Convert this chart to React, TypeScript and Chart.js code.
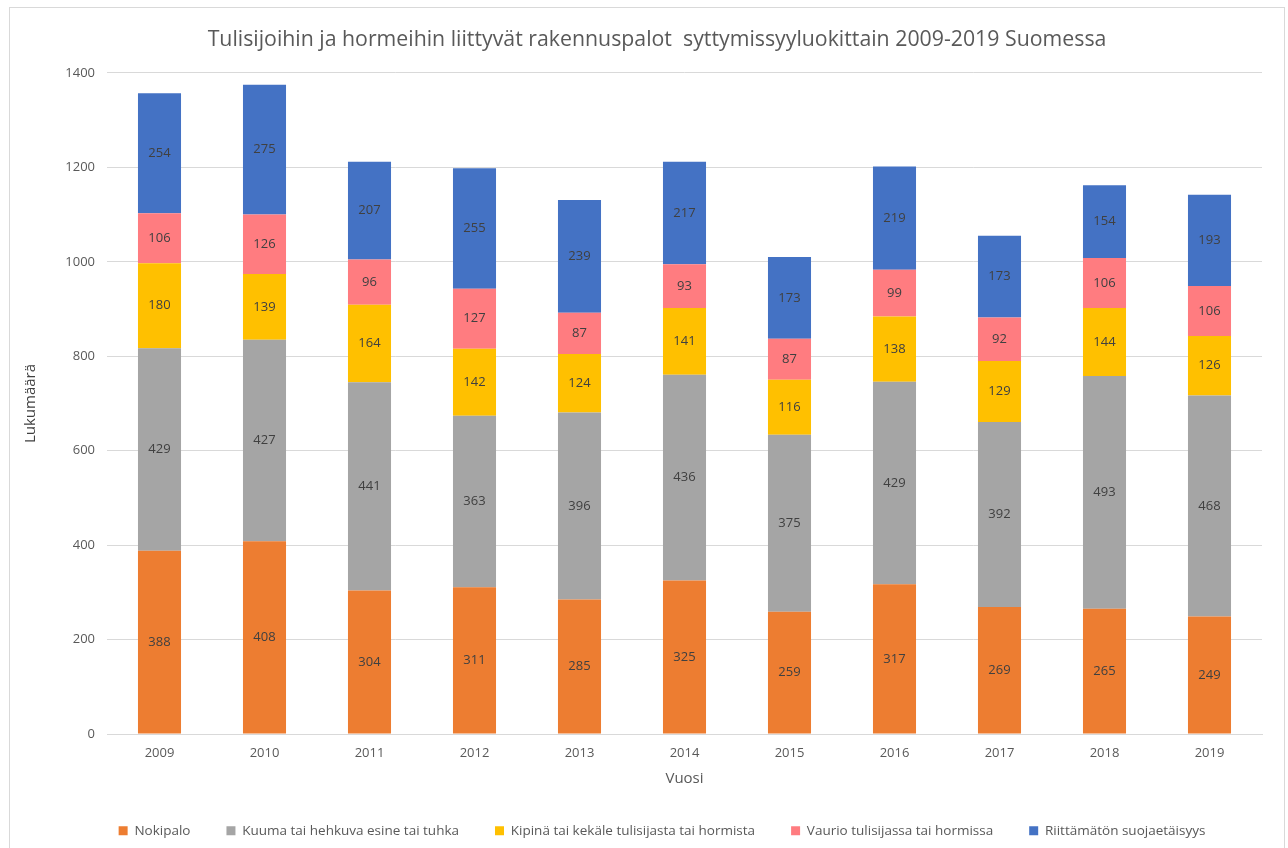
import React, { useEffect, useRef } from "react";
import { Chart, registerables } from "chart.js";

Chart.register(...registerables);

const years = ["2009", "2010", "2011", "2012", "2013", "2014", "2015", "2016", "2017", "2018", "2019"];
const nokipalo = [388, 408, 304, 311, 285, 325, 259, 317, 269, 265, 249];
const kuuma = [429, 427, 441, 363, 396, 436, 375, 429, 392, 493, 468];
const kipina = [180, 139, 164, 142, 124, 141, 116, 138, 129, 144, 126];
const vaurio = [106, 126, 96, 127, 87, 93, 87, 99, 92, 106, 106];
const riittamaton = [254, 275, 207, 255, 239, 217, 173, 219, 173, 154, 193];

const seriesNames = [
  "Nokipalo",
  "Kuuma tai hehkuva esine tai tuhka",
  "Kipinä tai kekäle tulisijasta tai hormista",
  "Vaurio tulisijassa tai hormissa",
  "Riittämätön suojaetäisyys",
];
const seriesColors = ["#ED7D31", "#A5A5A5", "#FFC000", "#FF7C80", "#4472C4"];
const seriesValues = [nokipalo, kuuma, kipina, vaurio, riittamaton];

const yTicks = [0, 200, 400, 600, 800, 1000, 1200, 1400];

const FONT = "'Open Sans', Lato, sans-serif";

const frameAndLabels = {
  id: "frameAndLabels",
  beforeDraw(chart: any) {
    const ctx = chart.ctx;
    ctx.save();
    ctx.fillStyle = "#ffffff";
    ctx.fillRect(0, 0, chart.width, chart.height);
    ctx.strokeStyle = "#d9d9d9";
    ctx.lineWidth = 1;
    ctx.strokeRect(9.5, 7.5, 1275, 860);
    ctx.restore();
  },
  afterLayout(chart: any) {
    const legend = chart.legend;
    if (legend) {
      legend.left += 20;
      legend.right += 20;
    }
    const title = chart.titleBlock;
    if (title) {
      title.left += 15;
      title.right += 15;
    }
  },
  afterDatasetsDraw(chart: any) {
    const ctx = chart.ctx;
    ctx.save();
    ctx.font = "13px " + FONT;
    ctx.fillStyle = "#404040";
    ctx.textAlign = "center";
    ctx.textBaseline = "middle";
    chart.data.datasets.forEach((ds: any, i: number) => {
      const meta = chart.getDatasetMeta(i);
      meta.data.forEach((el: any, j: number) => {
        const { x, y, base } = el.getProps(["x", "y", "base"], true);
        ctx.fillText(String(ds.data[j]), x, (y + base) / 2);
      });
    });
    ctx.restore();
  },
  afterInit(chart: any) {
    const legend = chart.legend;
    if (legend) {
      const orig = legend.fit;
      legend.fit = function () {
        orig.call(this);
        this.height = 60;
      };
    }
  },
};

export default function App() {
  const ref = useRef<HTMLCanvasElement>(null);
  useEffect(() => {
    if (!ref.current) return;
    const chart = new Chart(ref.current, {
      type: "bar",
      data: {
        labels: years,
        datasets: seriesValues.map((vals, i) => ({
          label: seriesNames[i],
          data: vals,
          backgroundColor: seriesColors[i],
          borderWidth: 0,
          categoryPercentage: 0.82,
          barPercentage: 0.5,
        })),
      },
      options: {
        animation: false,
        responsive: true,
        maintainAspectRatio: false,
        layout: { padding: { top: 7, left: 22, right: 26, bottom: 0 } },
        plugins: {
          title: {
            display: true,
            text: "Tulisijoihin ja hormeihin liittyvät rakennuspalot  syttymissyyluokittain 2009-2019 Suomessa",
            color: "#595959",
            font: { family: FONT, size: 21.3, weight: "normal", lineHeight: 1.2 },
            padding: { top: 20, bottom: 20.4 },
          },
          legend: {
            position: "bottom",
            labels: {
              color: "#595959",
              font: { family: FONT, size: 13.5 },
              boxWidth: 9,
              boxHeight: 9,
              padding: 36,
            },
          },
          tooltip: { enabled: false },
        },
        scales: {
          x: {
            stacked: true,
            grid: { display: false, drawTicks: false },
            border: { display: true, color: "#d9d9d9" },
            ticks: { color: "#595959", font: { family: FONT, size: 13 }, padding: 11 },
            title: {
              display: true,
              text: "Vuosi",
              color: "#595959",
              font: { family: FONT, size: 15 },
              padding: { top: 0, bottom: 0 },
            },
            afterFit(scale: any) {
              scale.height = 54;
            },
          },
          y: {
            stacked: true,
            min: 0,
            max: 1400,
            afterBuildTicks(scale: any) {
              scale.ticks = yTicks.map((v) => ({ value: v }));
            },
            grid: { color: "#d9d9d9", drawTicks: false },
            border: { display: false },
            ticks: {
              color: "#595959",
              font: { family: FONT, size: 13 },
              padding: 12,
              callback: (v: any) => String(v),
            },
            title: {
              display: true,
              text: "Lukumäärä",
              color: "#404040",
              font: { family: FONT, size: 15 },
              padding: { top: 0, bottom: 0 },
            },
            afterFit(scale: any) {
              scale.width = 85;
            },
          },
        },
      },
      plugins: [frameAndLabels],
    });
    return () => chart.destroy();
  }, []);
  return (
    <div style={{ position: "absolute", left: 0, top: 0, width: 1288, height: 848, background: "#fff" }}>
      <canvas ref={ref} />
    </div>
  );
}
